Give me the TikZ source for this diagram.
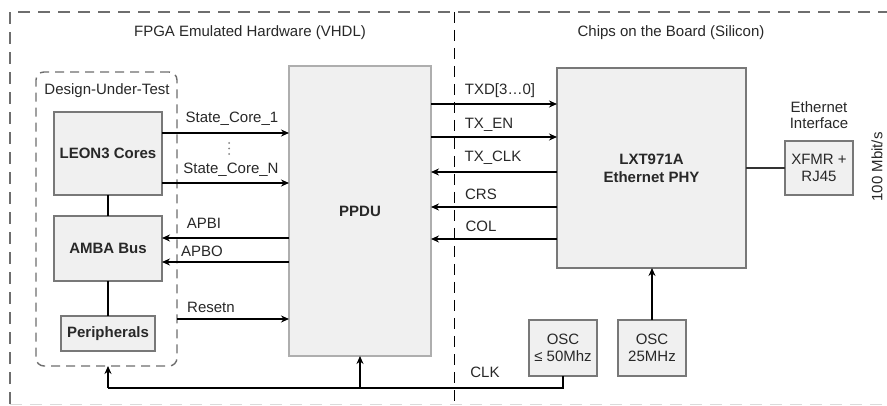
\documentclass[tikz,border=0pt]{standalone}
\usepackage{fontspec}
\setmainfont{Liberation Sans}
\usetikzlibrary{arrows.meta}
\definecolor{boxfill}{RGB}{240,240,240}
\definecolor{boxline}{RGB}{120,120,120}
\definecolor{txtc}{RGB}{40,40,40}
\definecolor{dashc}{RGB}{110,110,110}
\tikzset{
  fnt/.style={font=\fontsize{15}{17}\selectfont, text=txtc},
  blk/.style={draw=boxline, fill=boxfill, line width=1.2pt, inner sep=0pt, outer sep=0pt, fnt, align=center},
  bblk/.style={blk, font=\fontsize{15}{18}\selectfont\bfseries},
  sig/.style={line width=1.8pt, -{Stealth[length=8pt,width=7pt]}},
  wire/.style={line width=1.8pt},
  lbl/.style={fnt, inner sep=0pt},
}
\begin{document}
\begin{tikzpicture}[x=1pt,y=-1pt]
\clip (0,0) rectangle (887,406);
\fill[white] (0,0) rectangle (887,406);
% outer dashed frame
\draw[dashc, line width=1.4pt, dash pattern=on 12pt off 8pt] (10,404) -- (10,12) -- (900,12);
\draw[dashc!25, line width=0.8pt, dash pattern=on 12pt off 8pt] (10,404) -- (900,404);
% divider
\draw[black, line width=0.9pt, dash pattern=on 11pt off 7pt] (454,12) -- (454,402);
% titles
\node[lbl] (t1) at (250,33) {FPGA Emulated Hardware (VHDL)};
\node[lbl] (t2) at (671,33) {Chips on the Board (Silicon)};
% DUT frame
\node[draw=dashc, line width=1.4pt, dash pattern=on 9pt off 6pt, rounded corners=8pt,
      minimum width=141pt, minimum height=294pt, inner sep=0pt, outer sep=0pt] (dut) at (106.5,219) {};
\node[lbl] (dutl) at (107,91) {Design-Under-Test};
% blocks
\node[bblk, minimum width=108pt, minimum height=83pt] (leon) at (108,153.5) {LEON3 Cores};
\node[bblk, minimum width=108pt, minimum height=65pt] (amba) at (108,248.5) {AMBA Bus};
\node[bblk, minimum width=94pt, minimum height=35pt] (peri) at (108,333.5) {Peripherals};
\node[bblk, draw=boxline!60, minimum width=142pt, minimum height=290pt] (ppdu) at (360,211) {PPDU};
\node[bblk, minimum width=189pt, minimum height=200pt] (lxt) at (651.5,168) {LXT971A\\Ethernet PHY};
\node[blk, minimum width=68pt, minimum height=54pt] (xfmr) at (819,168) {XFMR +\\RJ45};
\node[blk, minimum width=68pt, minimum height=56pt] (osca) at (563,348) {OSC\\≤ 50Mhz};
\node[blk, minimum width=68pt, minimum height=56pt] (oscb) at (652,348) {OSC\\25MHz};
% internal DUT links
\draw[wire] (leon.south) -- (amba.north);
\draw[wire] (amba.south) -- (peri.north);
% DUT <-> PPDU signals
\draw[sig] (leon.east |- 0,133) -- (ppdu.west |- 0,133);
\draw[sig] (leon.east |- 0,183) -- (ppdu.west |- 0,183);
\draw[sig] (ppdu.west |- 0,238) -- (amba.east |- 0,238);
\draw[sig] (ppdu.west |- 0,262) -- (amba.east |- 0,262);
\draw[sig] (dut.east |- 0,319) -- (ppdu.west |- 0,319);
\node[lbl] (l1) at (232,119) {State\_Core\_1};
\node[lbl] (l2) at (231,170) {State\_Core\_N};
\foreach \yy in {143,148.5,154} \fill[gray] (229,\yy) circle (1pt);
\node[lbl] (l3) at (204,223) {APBI};
\node[lbl] (l4) at (202,251) {APBO};
\node[lbl] (l5) at (211,307) {Resetn};
% PPDU <-> PHY signals
\draw[sig] (ppdu.east |- 0,104) -- (lxt.west |- 0,104);
\draw[sig] (ppdu.east |- 0,137) -- (lxt.west |- 0,137);
\draw[sig] (lxt.west |- 0,172) -- (ppdu.east |- 0,172);
\draw[sig] (lxt.west |- 0,207) -- (ppdu.east |- 0,207);
\draw[sig] (lxt.west |- 0,239) -- (ppdu.east |- 0,239);
\node[lbl] (l6) at (500,91) {TXD[3…0]};
\node[lbl] (l7) at (489,125) {TX\_EN};
\node[lbl] (l8) at (493,158) {TX\_CLK};
\node[lbl] (l9) at (481,194) {CRS};
\node[lbl] (l10) at (481,226) {COL};
% PHY to XFMR
\draw[line width=1.5pt, black!80] (lxt.east |- xfmr.west) -- (xfmr.west);
\node[lbl, align=center] (eth) at (819,115.5) {Ethernet\\[-1pt]Interface};
\node[lbl, rotate=90] (rate) at (877,167) {100 Mbit/s};
% oscillators
\draw[sig] (oscb.north) -- (oscb.north |- lxt.south);
\coordinate (clkl) at (108,388);
\draw[wire] (osca.south) |- (clkl);
\draw[sig] (clkl) -- (clkl |- dut.south);
\draw[sig] (ppdu.south |- clkl) -- (ppdu.south);
\node[lbl] (clk) at (485,372) {CLK};
\end{tikzpicture}
\end{document}
